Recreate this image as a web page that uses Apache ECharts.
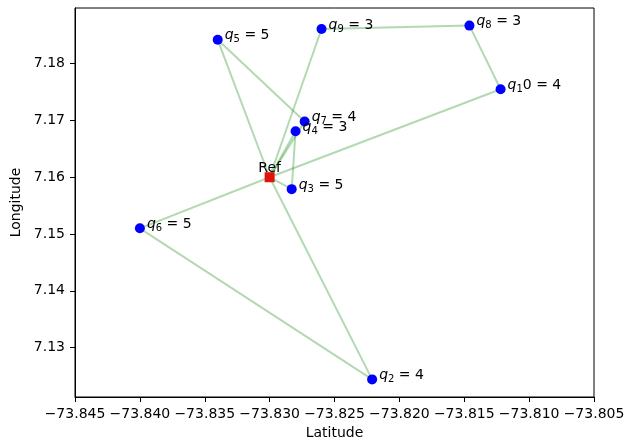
<!DOCTYPE html>
<html>
<head>
<meta charset="utf-8">
<script src="https://cdn.jsdelivr.net/npm/echarts@6/dist/echarts.min.js"></script>
<style>
  html, body { margin: 0; padding: 0; background: #fff; }
  #chart { width: 626px; height: 445px; }
</style>
</head>
<body>
<div id="chart"></div>
<script>
// Depot and customer nodes
const nodeNames = ['Ref', 'q2', 'q3', 'q4', 'q5', 'q6', 'q7', 'q8', 'q9', 'q10'];
const nodeLat = [-73.8300, -73.8221, -73.8283, -73.8280, -73.8340, -73.8400, -73.8273, -73.8146, -73.8260, -73.8122];
const nodeLon = [7.1600, 7.1244, 7.1579, 7.1681, 7.1842, 7.1510, 7.1698, 7.1867, 7.1861, 7.1755];
const nodeDemand = [null, 4, 5, 3, 5, 5, 4, 3, 3, 4];

// Vehicle routes, each starting and ending at the depot
const routes = [
  ['Ref', 'q2', 'q6', 'Ref'],
  ['Ref', 'q5', 'q7', 'Ref'],
  ['Ref', 'q9', 'q8', 'q10', 'Ref'],
  ['Ref', 'q4', 'q3', 'Ref']
];

// Axis extents and ticks
const xMin = -73.845, xMax = -73.805;
const yMin = 7.1213, yMax = 7.1898;
const xTicks = [-73.845, -73.840, -73.835, -73.830, -73.825, -73.820, -73.815, -73.810, -73.805];
const yTicks = [7.13, 7.14, 7.15, 7.16, 7.17, 7.18];

const FONT = 'DejaVu Sans';
const fmtTick = (v, d) => v.toFixed(d).replace('-', '\u2212');

function pointOf(name) {
  const i = nodeNames.indexOf(name);
  return [nodeLat[i], nodeLon[i]];
}

// "q_10" style label: first digit of the index is the subscript, like mathtext renders it
function customerLabel(name, demand) {
  const num = name.slice(1);
  return '{q|q}{s|' + num[0] + '}{t|' + num.slice(1) + ' = ' + demand + '}';
}

const routeSeries = routes.map(r => ({
  type: 'line',
  data: r.map(pointOf),
  symbol: 'none',
  silent: true,
  z: 1,
  lineStyle: { color: 'rgba(0,128,0,0.3)', width: 2 }
}));

const customers = [];
for (let i = 1; i < nodeNames.length; i++) {
  customers.push({ value: [nodeLat[i], nodeLon[i]], name: nodeNames[i], demand: nodeDemand[i] });
}

const chart = echarts.init(document.getElementById('chart'), null, { renderer: 'canvas' });
chart.setOption({
  animation: false,
  backgroundColor: '#fff',
  textStyle: { fontFamily: FONT },
  grid: {
    left: 75, right: 32, top: 8, bottom: 48,
    show: true, borderColor: '#000', borderWidth: 1,
    containLabel: false, outerBoundsMode: 'none'
  },
  xAxis: {
    type: 'value', min: xMin, max: xMax,
    name: 'Latitude', nameLocation: 'middle', nameGap: 27,
    nameTextStyle: { fontFamily: FONT, fontSize: 14, color: '#000' },
    axisLine: { show: true, onZero: false, lineStyle: { color: '#000', width: 1 } },
    axisTick: { show: true, inside: false, length: 5, customValues: xTicks, lineStyle: { color: '#000' } },
    axisLabel: { customValues: xTicks, margin: 10, fontFamily: FONT, fontSize: 14, color: '#000',
      formatter: v => fmtTick(v, 3) },
    splitLine: { show: false }
  },
  yAxis: {
    type: 'value', min: yMin, max: yMax,
    name: 'Longitude', nameLocation: 'middle', nameGap: 44, nameRotate: 90,
    nameTextStyle: { fontFamily: FONT, fontSize: 14, color: '#000' },
    axisLine: { show: true, onZero: false, lineStyle: { color: '#000', width: 1 } },
    axisTick: { show: true, inside: false, length: 5, customValues: yTicks, lineStyle: { color: '#000' } },
    axisLabel: { customValues: yTicks, margin: 10, fontFamily: FONT, fontSize: 14, color: '#000',
      formatter: v => fmtTick(v, 2) },
    splitLine: { show: false }
  },
  series: [
    ...routeSeries,
    {
      type: 'scatter',
      data: customers,
      symbol: 'circle',
      symbolSize: 10,
      z: 3,
      itemStyle: { color: '#0000ff', opacity: 1 },
      label: {
        show: true, position: 'right', distance: 2, offset: [0, -3],
        formatter: p => customerLabel(p.data.name, p.data.demand),
        rich: {
          q: { fontFamily: FONT, fontSize: 14, fontStyle: 'italic', color: '#000', verticalAlign: 'bottom', padding: [0, 0, 2, 0] },
          s: { fontFamily: FONT, fontSize: 10, color: '#000', verticalAlign: 'bottom' },
          t: { fontFamily: FONT, fontSize: 14, color: '#000', verticalAlign: 'bottom', padding: [0, 0, 2, 0] }
        }
      }
    },
    {
      type: 'scatter',
      data: [{ value: pointOf('Ref'), name: 'Ref' }],
      symbol: 'rect',
      symbolSize: 10,
      z: 2,
      itemStyle: { color: '#e0140a', opacity: 1 },
      label: {
        show: true, position: 'top', distance: 0, offset: [0, 3],
        formatter: p => p.data.name,
        fontFamily: FONT, fontSize: 14, color: '#000'
      }
    }
  ]
});
</script>
</body>
</html>
